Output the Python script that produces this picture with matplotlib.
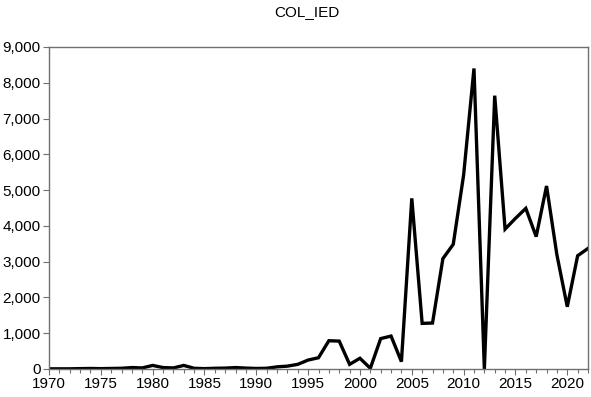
import matplotlib
matplotlib.use("Agg")
import matplotlib.pyplot as plt
from matplotlib.ticker import MultipleLocator, FuncFormatter

plt.rcParams['font.family'] = ['Liberation Sans', 'DejaVu Sans']

years = list(range(1970, 2023))
ied = [5, 5, 5, 10, 15, 10, 15, 20, 40, 30,
       100, 40, 30, 100, 20, 10, 20, 25, 40, 25,
       15, 20, 60, 80, 130, 250, 315, 790, 780, 130,
       300, 20, 850, 920, 205, 4770, 1275, 1285, 3085, 3485,
       5420, 8400, 0, 7640, 3910, 4210, 4490, 3700, 5115, 3190,
       1740, 3165, 3370]

fig = plt.figure(figsize=(5.91, 3.97), dpi=100)
ax = fig.add_axes([49/591, 1-369/397, (588-49)/591, (369-47)/397])
ax.plot(years, ied, color='black', lw=2.4, solid_joinstyle='miter')
ax.set_xlim(1970, 2022)
ax.set_ylim(0, 9000)
ax.xaxis.set_major_locator(MultipleLocator(5))
ax.xaxis.set_minor_locator(MultipleLocator(1))
ax.yaxis.set_major_locator(MultipleLocator(1000))
ax.yaxis.set_major_formatter(FuncFormatter(lambda v, p: f"{int(v):,}"))
for s in ax.spines.values():
    s.set_color('#707070')
    s.set_linewidth(1.0)
ax.tick_params(axis='both', which='major', labelsize=11, color='#707070', length=4, width=0.8, pad=2)
ax.tick_params(axis='x', which='minor', color='#707070', length=3, width=0.8)
ax.tick_params(axis='y', which='both', right=False)
fig.text(307/591, 1-12/397, "COL_IED", ha='center', va='center', fontsize=11)
fig.savefig("out.png", dpi=100)
